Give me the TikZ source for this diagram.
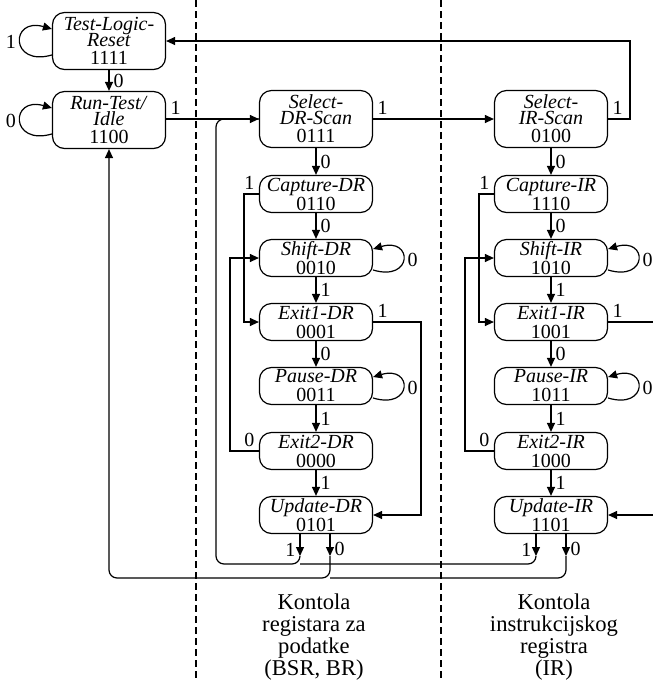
\documentclass[tikz,border=0pt]{standalone}
\usepackage{fontspec}
\setmainfont{Liberation Serif}
\usetikzlibrary{arrows.meta}

\begin{document}
\begin{tikzpicture}[x=0.5pt,y=-0.5pt,line width=0.6pt,
  font=\fontsize{10}{9.5}\selectfont,
  tap/.style={draw,rounded corners=6pt,minimum width=56.5pt,minimum height=18.5pt,inner sep=0.5pt,align=center},
  tall/.style={tap,minimum height=28.5pt},
  arr/.style={-{Triangle[length=4.5pt,width=4pt]}},
  lbl/.style={inner sep=2pt},
  sep/.style={dash pattern=on 3.5pt off 2pt,line width=0.9pt},
  caption/.style={align=center,font=\fontsize{11.3}{11}\selectfont}]
\useasboundingbox (0,0) rectangle (653,682);

\draw [sep](196,0) -- (196,682);
\draw [sep](441,0) -- (441,682);

\node[tall] (tlr) at (109,41) {\textit{Test-Logic-}\\[-1.5pt]\textit{Reset}\\[-0.5pt]1111};
\node[tall] (rti) at (109,120) {\textit{Run-Test/}\\[-1.5pt]\textit{Idle}\\[-0.5pt]1100};

\node[tall] (sdr) at (316,119) {\textit{Select-}\\[-1.5pt]\textit{DR-Scan}\\[-0.5pt]0111};
\node[tap] (cdr) at (316,194) {\textit{Capture-DR}\\0110};
\node[tap] (shdr) at (316,258) {\textit{Shift-DR}\\0010};
\node[tap] (e1dr) at (316,322) {\textit{Exit1-DR}\\0001};
\node[tap] (pdr) at (316,386) {\textit{Pause-DR}\\0011};
\node[tap] (e2dr) at (316,451) {\textit{Exit2-DR}\\0000};
\node[tap] (udr) at (316,515) {\textit{Update-DR}\\0101};

\node[tall] (sir) at (551,119) {\textit{Select-}\\[-1.5pt]\textit{IR-Scan}\\[-0.5pt]0100};
\node[tap] (cir) at (551,194) {\textit{Capture-IR}\\1110};
\node[tap] (shir) at (551,258) {\textit{Shift-IR}\\1010};
\node[tap] (e1ir) at (551,322) {\textit{Exit1-IR}\\1001};
\node[tap] (pir) at (551,386) {\textit{Pause-IR}\\1011};
\node[tap] (e2ir) at (551,451) {\textit{Exit2-IR}\\1000};
\node[tap] (uir) at (551,515) {\textit{Update-IR}\\1101};

\node[caption] (capdr) at (314,637) {Kontola\\registara za\\podatke\\(BSR, BR)};
\node[caption] (capir) at (554,637) {Kontola\\instrukcijskog\\registra\\(IR)};

\coordinate (rt) at (630,41);
\coordinate (cdl) at (244,322);
\coordinate (e2l) at (230,258);
\coordinate (e1r) at (421,515);
\coordinate (cil) at (479,322);
\coordinate (e2il) at (465,258);
\coordinate (e1irr) at (660,515);
\coordinate (ud1) at (300,556);
\coordinate (ud0) at (330,556);
\coordinate (ui1) at (536,556);
\coordinate (ui0) at (566,556);
\coordinate (sl) at (216,564);
\coordinate (st) at (216,119);
\coordinate (bl) at (109,578);

\draw[arr] ([yshift=-7pt]tlr.west) .. controls +(-21pt,-6pt) and +(-21pt,6pt) .. node[lbl,left]{1} ([yshift=6pt]tlr.west);
\draw[arr] ([yshift=-7pt]rti.west) .. controls +(-21pt,-6pt) and +(-21pt,6pt) .. node[lbl,left]{0} ([yshift=6pt]rti.west);
\draw[arr] (tlr) -- node[lbl,right]{0} (rti);
\draw[arr] (rti.east |- sdr) -- node[lbl,above right,pos=0]{1} (sdr);
\draw[arr] (sdr) -- node[lbl,above right,pos=0]{1} (sir);
\draw[arr] (sir.east) -| node[lbl,above right,pos=0]{1} (rt) -- (tlr.east);

\draw[arr] (sdr) -- node[lbl,right]{0} (cdr);
\draw[arr] (cdr) -- node[lbl,right]{0} (shdr);
\draw[arr] (shdr) -- node[lbl,right]{1} (e1dr);
\draw[arr] (e1dr) -- node[lbl,right]{0} (pdr);
\draw[arr] (pdr) -- node[lbl,right]{1} (e2dr);
\draw[arr] (e2dr) -- node[lbl,right]{1} (udr);
\draw[arr] ([yshift=-6pt]shdr.east) .. controls +(20pt,-6pt) and +(20pt,6pt) .. node[lbl,right]{0} ([yshift=4.5pt]shdr.east);
\draw[arr] ([yshift=-6pt]pdr.east) .. controls +(20pt,-6pt) and +(20pt,6pt) .. node[lbl,right]{0} ([yshift=4.5pt]pdr.east);
\draw[arr] (cdr.west) -| node[lbl,above left,pos=0]{1} (cdl) -- (e1dr.west);
\draw[arr] (e2dr.west) -| node[lbl,above left,pos=0]{0} (e2l) -- (shdr.west);
\draw[arr] (e1dr.east) -| node[lbl,above right,pos=0]{1} (e1r) -- (udr.east);

\draw[arr] (sir) -- node[lbl,right]{0} (cir);
\draw[arr] (cir) -- node[lbl,right]{0} (shir);
\draw[arr] (shir) -- node[lbl,right]{1} (e1ir);
\draw[arr] (e1ir) -- node[lbl,right]{0} (pir);
\draw[arr] (pir) -- node[lbl,right]{1} (e2ir);
\draw[arr] (e2ir) -- node[lbl,right]{1} (uir);
\draw[arr] ([yshift=-6pt]shir.east) .. controls +(20pt,-6pt) and +(20pt,6pt) .. node[lbl,right]{0} ([yshift=4.5pt]shir.east);
\draw[arr] ([yshift=-6pt]pir.east) .. controls +(20pt,-6pt) and +(20pt,6pt) .. node[lbl,right]{0} ([yshift=4.5pt]pir.east);
\draw[arr] (cir.west) -| node[lbl,above left,pos=0]{1} (cil) -- (e1ir.west);
\draw[arr] (e2ir.west) -| node[lbl,above left,pos=0]{0} (e2il) -- (shir.west);
\draw[arr] (e1ir.east) -| node[lbl,above right,pos=0]{1} (e1irr) -- (uir.east);

\draw[arr] (udr.south -| ud1) -- node[lbl,left,pos=0.7]{1} (ud1);
\draw[arr] (udr.south -| ud0) -- node[lbl,right,pos=0.7]{0} (ud0);
\draw[arr] (uir.south -| ui1) -- node[lbl,left,pos=0.7]{1} (ui1);
\draw[arr] (uir.south -| ui0) -- node[lbl,right,pos=0.7]{0} (ui0);
\draw[rounded corners=4pt] (ud1) |- (sl) -- (st) -- (sdr.west);
\draw[rounded corners=4pt] (ui1) |- (ud1 |- sl);
\draw[arr,rounded corners=4pt] (ud0) |- (bl) -- (rti.south);
\draw[rounded corners=4pt] (ui0) |- (ud0 |- bl);
\end{tikzpicture}
\end{document}
